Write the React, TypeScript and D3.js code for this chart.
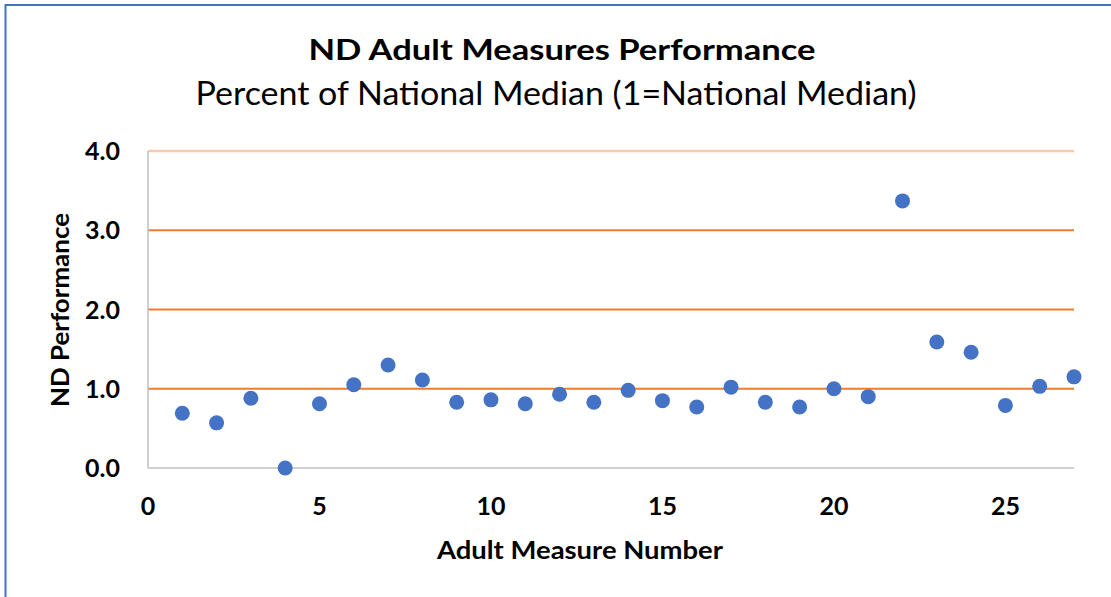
import * as React from "react"
import * as d3 from "d3"

// adult measure number 1..27, ND performance relative to national median
const measures = [1, 2, 3, 4, 5, 6, 7, 8, 9, 10, 11, 12, 13, 14, 15, 16, 17, 18, 19, 20, 21, 22, 23, 24, 25, 26, 27]
const performance = [0.69, 0.57, 0.88, 0.0, 0.81, 1.05, 1.30, 1.11, 0.83, 0.86, 0.81, 0.93, 0.83, 0.98, 0.85, 0.77, 1.02, 0.83, 0.77, 1.0, 0.90, 3.37, 1.59, 1.46, 0.79, 1.03, 1.15]
const yTicks = [0, 1, 2, 3, 4]
const xTicks = [0, 5, 10, 15, 20, 25]

const W = 1111
const H = 597
const margin = { top: 151, right: 37, bottom: 129, left: 148 }
const font = "Lato, 'Open Sans', sans-serif"

export default function App(): JSX.Element {
    const innerW = W - margin.left - margin.right
    const innerH = H - margin.top - margin.bottom

    const x = d3.scaleLinear().domain([0, 27]).range([0, innerW])
    const y = d3.scaleLinear().domain([0, 4]).range([innerH, 0])

    return (
        <svg width={W} height={H} style={{ position: "absolute", left: 0, top: 0, background: "#fff" }}>
            {/* chart frame, runs off the right and bottom edges */}
            <rect x={5.5} y={5} width={W + 20} height={H + 20} fill="#fff" stroke="#4472C4" strokeWidth={2} />

            <text x={562} y={60} textAnchor="middle" fontFamily={font} fontWeight="bold" fontSize={29} fill="#000"
                textLength={507} lengthAdjust="spacingAndGlyphs">
                ND Adult Measures Performance
            </text>
            <text x={556} y={105} textAnchor="middle" fontFamily={font} fontSize={33} fill="#000"
                textLength={721} lengthAdjust="spacingAndGlyphs">
                Percent of National Median (1=National Median)
            </text>

            <g transform={"translate(" + margin.left + "," + margin.top + ")"}>
                {/* gridlines */}
                {yTicks.filter(t => t > 0).map(t => (
                    <line key={"g" + t} x1={0} x2={innerW} y1={y(t)} y2={y(t)}
                        stroke={t === 4 ? "#F8CBAD" : "#ED7D31"} strokeWidth={t === 4 ? 2.5 : 1.8} />
                ))}

                {/* axes */}
                <line x1={0} x2={0} y1={0} y2={innerH} stroke="#BFBFBF" strokeWidth={1.5} />
                <line x1={0} x2={innerW} y1={innerH} y2={innerH} stroke="#BFBFBF" strokeWidth={1.5} />

                {yTicks.map(t => (
                    <text key={"y" + t} x={-28} y={y(t)} dy="0.36em" textAnchor="end"
                        fontFamily={font} fontWeight="bold" fontSize={25} fill="#000">
                        {d3.format(".1f")(t)}
                    </text>
                ))}
                {xTicks.map(t => (
                    <text key={"x" + t} x={x(t)} y={innerH + 47} textAnchor="middle"
                        fontFamily={font} fontWeight="bold" fontSize={25} fill="#000">
                        {t}
                    </text>
                ))}

                {/* points */}
                {measures.map((m, i) => (
                    <circle key={m} cx={x(m)} cy={y(performance[i])} r={7.5} fill="#4472C4" />
                ))}
            </g>

            <text x={580} y={559} textAnchor="middle" fontFamily={font} fontWeight="bold" fontSize={24} fill="#000"
                textLength={286} lengthAdjust="spacingAndGlyphs">
                Adult Measure Number
            </text>
            <text transform="translate(69,310) rotate(-90)" textAnchor="middle"
                fontFamily={font} fontWeight="bold" fontSize={25} fill="#000"
                textLength={194} lengthAdjust="spacingAndGlyphs">
                ND Performance
            </text>
        </svg>
    )
}
